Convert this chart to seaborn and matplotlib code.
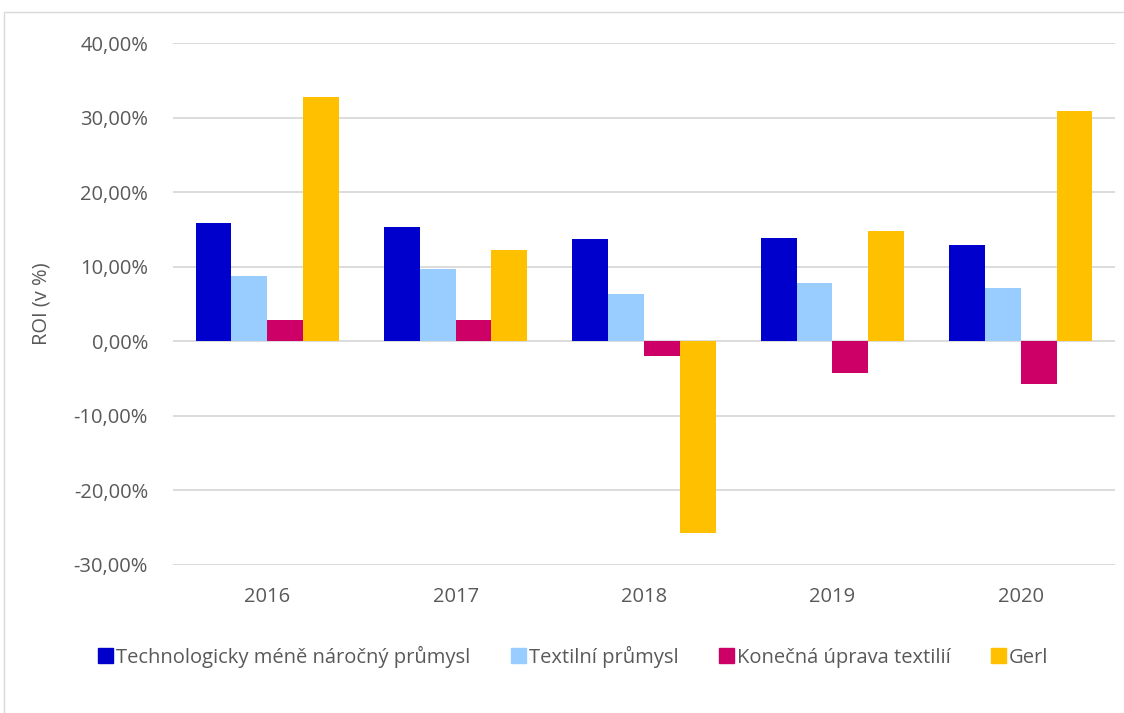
import matplotlib
matplotlib.use("Agg")
import matplotlib.pyplot as plt
import matplotlib.patches as mpatches
from matplotlib.ticker import FuncFormatter
import pandas as pd
import seaborn as sns

# data
years = ["2016", "2017", "2018", "2019", "2020"]
series = ["Technologicky méně náročný průmysl", "Textilní průmysl",
          "Konečná úprava textilií", "Gerl"]
tech = [15.9, 15.3, 13.7, 13.9, 12.9]
textil = [8.7, 9.7, 6.3, 7.8, 7.2]
konecna = [2.8, 2.8, -2.0, -4.2, -5.7]
gerl = [32.8, 12.2, -25.7, 14.8, 30.9]
colors = ["#0000CC", "#99CCFF", "#CC0066", "#FFC000"]

rows = []
for name, vals in zip(series, [tech, textil, konecna, gerl]):
    for y, v in zip(years, vals):
        rows.append({"year": y, "series": name, "roi": v})
df = pd.DataFrame(rows)

sns.set_style("white")
plt.rcParams["font.family"] = ["Open Sans", "DejaVu Sans"]

fig = plt.figure(figsize=(11.24, 7.13), dpi=100)
ax = fig.add_axes([0.154, 0.2076, 0.838, 0.732])

sns.barplot(data=df, x="year", y="roi", hue="series", hue_order=series,
            palette=colors, width=0.76, gap=0, saturation=1,
            edgecolor="none", ax=ax)

ax.set_ylim(-30, 40)
ax.set_yticks(range(-30, 41, 10))
ax.yaxis.set_major_formatter(FuncFormatter(lambda v, p: f"{v:.2f}%".replace(".", ",")))
ax.grid(axis="y", color="#d9d9d9", linewidth=1.3)
ax.set_axisbelow(True)
for s in ax.spines.values():
    s.set_visible(False)
ax.tick_params(axis="both", length=0, labelsize=14.5, labelcolor="#595959")
ax.tick_params(axis="y", pad=18)
ax.tick_params(axis="x", pad=16)
ax.set_xlabel("")
ax.set_ylabel("ROI (v %)", fontsize=14.5, color="#595959", labelpad=16)

handles = [mpatches.Patch(color=c, label=n) for c, n in zip(colors, series)]
ax.get_legend().remove()
fig.legend(handles=handles, loc="center", bbox_to_anchor=(0.51, 0.079), ncol=4,
           frameon=False, fontsize=14.5, handlelength=0.75, handleheight=0.75,
           handletextpad=0.15, columnspacing=2.0, labelcolor="#595959")

fig.patches.append(mpatches.Rectangle((4 / 1124, -0.1), 1.2, 1 - 12 / 713 + 0.1,
                                      transform=fig.transFigure, fill=False,
                                      edgecolor="#d9d9d9", linewidth=1))

fig.savefig("out.png", dpi=100)
